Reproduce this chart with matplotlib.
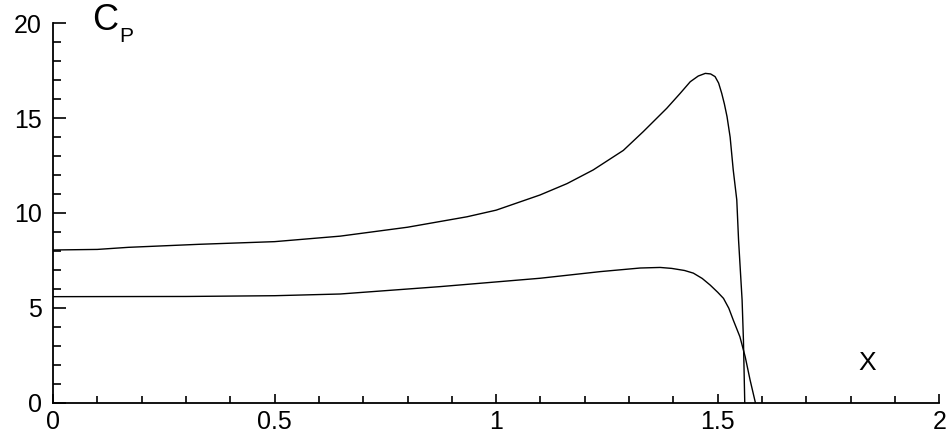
import numpy as np
import matplotlib
matplotlib.use("Agg")
from matplotlib import pyplot as plt
from matplotlib.ticker import MultipleLocator

# ---- data ----
upperX = [0, 0.1, 0.17, 0.33, 0.5, 0.648, 0.8, 0.934, 1.0, 1.099, 1.16, 1.219, 1.287, 1.332,
          1.385, 1.415, 1.438, 1.456, 1.472, 1.484, 1.494, 1.502, 1.509, 1.515, 1.521, 1.528,
          1.535, 1.543, 1.547, 1.555, 1.558, 1.561]
upperY = [8.05, 8.08, 8.19, 8.35, 8.49, 8.78, 9.25, 9.80, 10.15, 10.95, 11.55, 12.27, 13.3, 14.29,
          15.52, 16.3, 16.92, 17.22, 17.36, 17.33, 17.19, 16.85, 16.31, 15.75, 15.08, 14.0,
          12.27, 10.69, 8.58, 5.41, 3.31, 0.0]

lowerX = [0, 0.3, 0.5, 0.648, 0.874, 1.099, 1.235, 1.325, 1.37, 1.396, 1.425, 1.445, 1.465,
          1.483, 1.5, 1.513, 1.525, 1.535, 1.55, 1.562, 1.573, 1.585]
lowerY = [5.59, 5.60, 5.64, 5.73, 6.12, 6.56, 6.91, 7.10, 7.13, 7.08, 6.97, 6.83, 6.55,
          6.20, 5.82, 5.50, 4.98, 4.36, 3.48, 2.42, 1.20, 0.0]

xTicks = [0, 0.5, 1, 1.5, 2]
xTickLabels = ["0", "0.5", "1", "1.5", "2"]
yTicks = [0, 5, 10, 15, 20]
yTickLabels = ["0", "5", "10", "15", "20"]

plt.rcParams['font.family'] = ['Liberation Sans', 'DejaVu Sans']

fig = plt.figure(figsize=(9.48, 4.33), dpi=100)
ax = fig.add_axes([53/948, 1 - 402.7/433, (939.3 - 53)/948, (402.7 - 23.3)/433])

ax.plot(upperX, upperY, color="black", lw=1.0)
ax.plot(lowerX, lowerY, color="black", lw=1.0)

ax.set_xlim(0, 2)
ax.set_ylim(0, 20)

for side in ["top", "right"]:
    ax.spines[side].set_visible(False)
for side in ["left", "bottom"]:
    ax.spines[side].set_linewidth(1.3)

ax.set_xticks(xTicks)
ax.set_xticklabels(xTickLabels)
ax.set_yticks(yTicks)
ax.set_yticklabels(yTickLabels)
ax.xaxis.set_minor_locator(MultipleLocator(0.1))
ax.yaxis.set_minor_locator(MultipleLocator(1))

ax.tick_params(axis="x", which="major", direction="in", length=6.5, width=1.2, labelsize=18, pad=5)
ax.tick_params(axis="x", which="minor", direction="in", length=5.2, width=1.2)
ax.tick_params(axis="y", which="major", direction="in", length=9, width=1.2, labelsize=18, pad=8)
ax.tick_params(axis="y", which="minor", direction="in", length=6, width=1.2)

# axis titles placed inside the plot like the reference
fig.text(105/948, 1 - 21/433, "C", fontsize=26, ha="center", va="center")
fig.text(126/948, 1 - 37/433, "P", fontsize=15, ha="center", va="center")
fig.text(867/948, 1 - 363/433, "X", fontsize=19, ha="center", va="center")

fig.savefig("out.png", dpi=100)
